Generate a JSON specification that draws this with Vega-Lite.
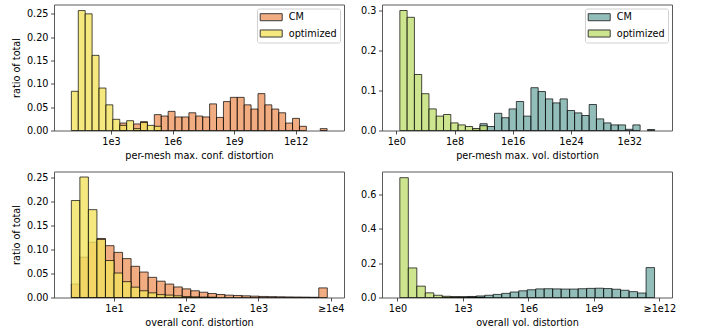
{
  "$schema": "https://vega.github.io/schema/vega-lite/v6.json",
  "padding": {"left": 11, "top": 3.5, "right": 0, "bottom": 0},
  "background": "white",
  "config": {
    "view": {"stroke": "#5a5a5a", "strokeWidth": 1},
    "font": "DejaVu Sans",
    "axis": {"domain": false, "grid": false, "ticks": true, "tickSize": 3.5, "tickColor": "#222", "tickWidth": 0.8, "labelFont": "DejaVu Sans", "labelFontSize": 9.7, "labelColor": "#000", "labelPadding": 2.5, "titleFont": "DejaVu Sans", "titleFontSize": 9.7, "titleFontWeight": "normal", "titleColor": "#000"},
    "axisX": {"titlePadding": 4, "labelFlush": false, "labelOverlap": false},
    "axisY": {"titlePadding": 4.5},
    "legend": {"orient": "top-right", "offset": 4, "padding": 2.7, "strokeColor": "#d0d0d0", "fillColor": "white", "cornerRadius": 2, "labelFont": "DejaVu Sans", "labelFontSize": 9.7, "labelColor": "#000", "symbolType": "M-2,-0.64H2V0.64H-2Z", "symbolSize": 121, "symbolOffset": 5.5, "symbolStrokeColor": "#3a3a3a", "symbolStrokeWidth": 1, "symbolOpacity": 1, "rowPadding": 4.3, "labelOffset": 11.5}
  },
  "columns": 2,
  "bounds": "flush",
  "spacing": {"row": 41, "column": 38},
  "resolve": {"scale": {"x": "independent", "y": "independent", "color": "independent"}, "legend": {"color": "independent"}, "axis": {"x": "independent", "y": "independent"}},
  "concat": [
    {
      "width": 290, "height": 126,
      "data": {"values": [
        {"m": "CM", "lo": 3.427, "hi": 3.764, "v": 0.016},
        {"m": "CM", "lo": 4.101, "hi": 4.438, "v": 0.014},
        {"m": "CM", "lo": 4.438, "hi": 4.775, "v": 0.019},
        {"m": "CM", "lo": 5.112, "hi": 5.449, "v": 0.034},
        {"m": "CM", "lo": 5.449, "hi": 5.786, "v": 0.031},
        {"m": "CM", "lo": 5.786, "hi": 6.123, "v": 0.041},
        {"m": "CM", "lo": 6.123, "hi": 6.460, "v": 0.029},
        {"m": "CM", "lo": 6.460, "hi": 6.797, "v": 0.029},
        {"m": "CM", "lo": 6.797, "hi": 7.134, "v": 0.038},
        {"m": "CM", "lo": 7.134, "hi": 7.471, "v": 0.031},
        {"m": "CM", "lo": 7.471, "hi": 7.808, "v": 0.029},
        {"m": "CM", "lo": 7.808, "hi": 8.145, "v": 0.057},
        {"m": "CM", "lo": 8.145, "hi": 8.482, "v": 0.028},
        {"m": "CM", "lo": 8.482, "hi": 8.819, "v": 0.062},
        {"m": "CM", "lo": 8.819, "hi": 9.156, "v": 0.071},
        {"m": "CM", "lo": 9.156, "hi": 9.493, "v": 0.071},
        {"m": "CM", "lo": 9.493, "hi": 9.830, "v": 0.055},
        {"m": "CM", "lo": 9.830, "hi": 10.167, "v": 0.046},
        {"m": "CM", "lo": 10.167, "hi": 10.504, "v": 0.079},
        {"m": "CM", "lo": 10.504, "hi": 10.841, "v": 0.055},
        {"m": "CM", "lo": 10.841, "hi": 11.178, "v": 0.046},
        {"m": "CM", "lo": 11.178, "hi": 11.515, "v": 0.038},
        {"m": "CM", "lo": 11.515, "hi": 11.852, "v": 0.016},
        {"m": "CM", "lo": 11.852, "hi": 12.189, "v": 0.026},
        {"m": "CM", "lo": 12.189, "hi": 12.526, "v": 0.009},
        {"m": "CM", "lo": 13.200, "hi": 13.537, "v": 0.004},
        {"m": "optimized", "lo": 1.068, "hi": 1.405, "v": 0.084},
        {"m": "optimized", "lo": 1.405, "hi": 1.742, "v": 0.257},
        {"m": "optimized", "lo": 1.742, "hi": 2.079, "v": 0.250},
        {"m": "optimized", "lo": 2.079, "hi": 2.416, "v": 0.161},
        {"m": "optimized", "lo": 2.416, "hi": 2.753, "v": 0.091},
        {"m": "optimized", "lo": 2.753, "hi": 3.090, "v": 0.055},
        {"m": "optimized", "lo": 3.090, "hi": 3.427, "v": 0.024},
        {"m": "optimized", "lo": 3.427, "hi": 3.764, "v": 0.011},
        {"m": "optimized", "lo": 3.764, "hi": 4.101, "v": 0.021},
        {"m": "optimized", "lo": 4.101, "hi": 4.438, "v": 0.004},
        {"m": "optimized", "lo": 4.438, "hi": 4.775, "v": 0.017},
        {"m": "optimized", "lo": 4.775, "hi": 5.112, "v": 0.011},
        {"m": "optimized", "lo": 5.112, "hi": 5.449, "v": 0.009}
      ]},
      "mark": {"type": "bar", "orient": "vertical", "stroke": "#000", "strokeOpacity": 0.7, "strokeWidth": 1},
      "encoding": {
        "x": {"field": "lo", "type": "quantitative", "scale": {"domain": [0.465, 14.116], "nice": false, "zero": false}, "axis": {"values": [3, 6, 9, 12], "labelExpr": "'1e' + datum.value", "title": "per-mesh max. conf. distortion"}},
        "x2": {"field": "hi"},
        "y": {"field": "v", "type": "quantitative", "stack": null, "scale": {"domain": [0, 0.27], "nice": false}, "axis": {"values": [0, 0.05, 0.1, 0.15, 0.2, 0.25], "format": ".2f", "title": "ratio of total"}},
        "color": {"field": "m", "type": "nominal", "scale": {"domain": ["CM", "optimized"], "range": ["rgba(232,117,47,0.6)", "rgba(242,226,95,0.8)"]}, "legend": {"title": null}}
      }
    },
    {
      "width": 290, "height": 126,
      "data": {"values": [
        {"m": "CM", "lo": 10.49, "hi": 11.49, "v": 0.003},
        {"m": "CM", "lo": 11.49, "hi": 12.49, "v": 0.017},
        {"m": "CM", "lo": 12.49, "hi": 13.49, "v": 0.010},
        {"m": "CM", "lo": 13.49, "hi": 14.49, "v": 0.043},
        {"m": "CM", "lo": 14.49, "hi": 15.49, "v": 0.032},
        {"m": "CM", "lo": 15.49, "hi": 16.49, "v": 0.054},
        {"m": "CM", "lo": 16.49, "hi": 17.49, "v": 0.0725},
        {"m": "CM", "lo": 17.49, "hi": 18.49, "v": 0.036},
        {"m": "CM", "lo": 18.49, "hi": 19.49, "v": 0.107},
        {"m": "CM", "lo": 19.49, "hi": 20.49, "v": 0.0975},
        {"m": "CM", "lo": 20.49, "hi": 21.49, "v": 0.079},
        {"m": "CM", "lo": 21.49, "hi": 22.49, "v": 0.069},
        {"m": "CM", "lo": 22.49, "hi": 23.49, "v": 0.079},
        {"m": "CM", "lo": 23.49, "hi": 24.49, "v": 0.050},
        {"m": "CM", "lo": 24.49, "hi": 25.49, "v": 0.044},
        {"m": "CM", "lo": 25.49, "hi": 26.49, "v": 0.0375},
        {"m": "CM", "lo": 26.49, "hi": 27.49, "v": 0.065},
        {"m": "CM", "lo": 27.49, "hi": 28.49, "v": 0.029},
        {"m": "CM", "lo": 28.49, "hi": 29.49, "v": 0.019},
        {"m": "CM", "lo": 29.49, "hi": 30.49, "v": 0.014},
        {"m": "CM", "lo": 30.49, "hi": 31.49, "v": 0.014},
        {"m": "CM", "lo": 31.49, "hi": 32.49, "v": 0.003},
        {"m": "CM", "lo": 32.49, "hi": 33.49, "v": 0.014},
        {"m": "CM", "lo": 34.49, "hi": 35.49, "v": 0.0025},
        {"m": "optimized", "lo": 0.49, "hi": 1.49, "v": 0.300},
        {"m": "optimized", "lo": 1.49, "hi": 2.49, "v": 0.283},
        {"m": "optimized", "lo": 2.49, "hi": 3.49, "v": 0.140},
        {"m": "optimized", "lo": 3.49, "hi": 4.49, "v": 0.092},
        {"m": "optimized", "lo": 4.49, "hi": 5.49, "v": 0.054},
        {"m": "optimized", "lo": 5.49, "hi": 6.49, "v": 0.036},
        {"m": "optimized", "lo": 6.49, "hi": 7.49, "v": 0.040},
        {"m": "optimized", "lo": 7.49, "hi": 8.49, "v": 0.019},
        {"m": "optimized", "lo": 8.49, "hi": 9.49, "v": 0.014},
        {"m": "optimized", "lo": 9.49, "hi": 10.49, "v": 0.010},
        {"m": "optimized", "lo": 10.49, "hi": 11.49, "v": 0.005},
        {"m": "optimized", "lo": 11.49, "hi": 12.49, "v": 0.012}
      ]},
      "mark": {"type": "bar", "orient": "vertical", "stroke": "#000", "strokeOpacity": 0.7, "strokeWidth": 1},
      "encoding": {
        "x": {"field": "lo", "type": "quantitative", "scale": {"domain": [-1.275, 37.18], "nice": false, "zero": false}, "axis": {"values": [0, 8, 16, 24, 32], "labelExpr": "'1e' + datum.value", "title": "per-mesh max. vol. distortion"}},
        "x2": {"field": "hi"},
        "y": {"field": "v", "type": "quantitative", "stack": null, "scale": {"domain": [0, 0.315], "nice": false}, "axis": {"values": [0, 0.1, 0.2, 0.3], "format": ".1f", "title": null}},
        "color": {"field": "m", "type": "nominal", "scale": {"domain": ["CM", "optimized"], "range": ["rgba(74,145,139,0.6)", "rgba(194,222,115,0.8)"]}, "legend": {"title": null}}
      }
    },
    {
      "width": 290, "height": 126,
      "data": {"values": [
        {"m": "CM", "lo": 0.410, "hi": 0.528, "v": 0.028},
        {"m": "CM", "lo": 0.528, "hi": 0.646, "v": 0.084},
        {"m": "CM", "lo": 0.646, "hi": 0.764, "v": 0.115},
        {"m": "CM", "lo": 0.764, "hi": 0.882, "v": 0.123},
        {"m": "CM", "lo": 0.882, "hi": 1.001, "v": 0.108},
        {"m": "CM", "lo": 1.001, "hi": 1.119, "v": 0.094},
        {"m": "CM", "lo": 1.119, "hi": 1.237, "v": 0.081},
        {"m": "CM", "lo": 1.237, "hi": 1.355, "v": 0.065},
        {"m": "CM", "lo": 1.355, "hi": 1.473, "v": 0.053},
        {"m": "CM", "lo": 1.473, "hi": 1.591, "v": 0.042},
        {"m": "CM", "lo": 1.591, "hi": 1.709, "v": 0.034},
        {"m": "CM", "lo": 1.709, "hi": 1.827, "v": 0.028},
        {"m": "CM", "lo": 1.827, "hi": 1.945, "v": 0.022},
        {"m": "CM", "lo": 1.945, "hi": 2.063, "v": 0.018},
        {"m": "CM", "lo": 2.063, "hi": 2.182, "v": 0.014},
        {"m": "CM", "lo": 2.182, "hi": 2.300, "v": 0.011},
        {"m": "CM", "lo": 2.300, "hi": 2.418, "v": 0.0083},
        {"m": "CM", "lo": 2.418, "hi": 2.536, "v": 0.0063},
        {"m": "CM", "lo": 2.536, "hi": 2.654, "v": 0.0049},
        {"m": "CM", "lo": 2.654, "hi": 2.772, "v": 0.0042},
        {"m": "CM", "lo": 2.772, "hi": 2.890, "v": 0.0035},
        {"m": "CM", "lo": 2.890, "hi": 3.008, "v": 0.0028},
        {"m": "CM", "lo": 3.008, "hi": 3.126, "v": 0.0022},
        {"m": "CM", "lo": 3.126, "hi": 3.244, "v": 0.0018},
        {"m": "CM", "lo": 3.244, "hi": 3.363, "v": 0.0015},
        {"m": "CM", "lo": 3.363, "hi": 3.481, "v": 0.0012},
        {"m": "CM", "lo": 3.481, "hi": 3.599, "v": 0.0010},
        {"m": "CM", "lo": 3.599, "hi": 3.717, "v": 0.0008},
        {"m": "CM", "lo": 3.717, "hi": 3.835, "v": 0.0005},
        {"m": "CM", "lo": 3.835, "hi": 3.953, "v": 0.020},
        {"m": "optimized", "lo": 0.410, "hi": 0.528, "v": 0.202},
        {"m": "optimized", "lo": 0.528, "hi": 0.646, "v": 0.251},
        {"m": "optimized", "lo": 0.646, "hi": 0.764, "v": 0.183},
        {"m": "optimized", "lo": 0.764, "hi": 0.882, "v": 0.121},
        {"m": "optimized", "lo": 0.882, "hi": 1.001, "v": 0.077},
        {"m": "optimized", "lo": 1.001, "hi": 1.119, "v": 0.051},
        {"m": "optimized", "lo": 1.119, "hi": 1.237, "v": 0.033},
        {"m": "optimized", "lo": 1.237, "hi": 1.355, "v": 0.0215},
        {"m": "optimized", "lo": 1.355, "hi": 1.473, "v": 0.014},
        {"m": "optimized", "lo": 1.473, "hi": 1.591, "v": 0.0097},
        {"m": "optimized", "lo": 1.591, "hi": 1.709, "v": 0.006},
        {"m": "optimized", "lo": 1.709, "hi": 1.827, "v": 0.005},
        {"m": "optimized", "lo": 1.827, "hi": 1.945, "v": 0.0035},
        {"m": "optimized", "lo": 1.945, "hi": 2.063, "v": 0.002},
        {"m": "optimized", "lo": 2.063, "hi": 2.182, "v": 0.0014},
        {"m": "optimized", "lo": 2.182, "hi": 2.300, "v": 0.001},
        {"m": "optimized", "lo": 2.300, "hi": 2.418, "v": 0.0007}
      ]},
      "mark": {"type": "bar", "orient": "vertical", "stroke": "#000", "strokeOpacity": 0.7, "strokeWidth": 1},
      "encoding": {
        "x": {"field": "lo", "type": "quantitative", "scale": {"domain": [0.239, 4.115], "nice": false, "zero": false}, "axis": {"values": [1, 2, 3, 4], "labelExpr": "datum.value == 4 ? '≥1e4' : '1e' + datum.value", "title": "overall conf. distortion"}},
        "x2": {"field": "hi"},
        "y": {"field": "v", "type": "quantitative", "stack": null, "scale": {"domain": [0, 0.2625], "nice": false}, "axis": {"values": [0, 0.05, 0.1, 0.15, 0.2, 0.25], "format": ".2f", "title": "ratio of total"}},
        "color": {"field": "m", "type": "nominal", "scale": {"domain": ["CM", "optimized"], "range": ["rgba(232,117,47,0.6)", "rgba(242,226,95,0.8)"]}, "legend": null}
      }
    },
    {
      "width": 290, "height": 126,
      "data": {"values": [
        {"m": "CM", "lo": 2.055, "hi": 2.444, "v": 0.002},
        {"m": "CM", "lo": 2.444, "hi": 2.833, "v": 0.004},
        {"m": "CM", "lo": 2.833, "hi": 3.222, "v": 0.004},
        {"m": "CM", "lo": 3.222, "hi": 3.611, "v": 0.006},
        {"m": "CM", "lo": 3.611, "hi": 4.000, "v": 0.009},
        {"m": "CM", "lo": 4.000, "hi": 4.389, "v": 0.013},
        {"m": "CM", "lo": 4.389, "hi": 4.778, "v": 0.018},
        {"m": "CM", "lo": 4.778, "hi": 5.167, "v": 0.024},
        {"m": "CM", "lo": 5.167, "hi": 5.556, "v": 0.032},
        {"m": "CM", "lo": 5.556, "hi": 5.945, "v": 0.039},
        {"m": "CM", "lo": 5.945, "hi": 6.334, "v": 0.045},
        {"m": "CM", "lo": 6.334, "hi": 6.723, "v": 0.050},
        {"m": "CM", "lo": 6.723, "hi": 7.112, "v": 0.051},
        {"m": "CM", "lo": 7.112, "hi": 7.501, "v": 0.050},
        {"m": "CM", "lo": 7.501, "hi": 7.890, "v": 0.049},
        {"m": "CM", "lo": 7.890, "hi": 8.279, "v": 0.049},
        {"m": "CM", "lo": 8.279, "hi": 8.668, "v": 0.051},
        {"m": "CM", "lo": 8.668, "hi": 9.057, "v": 0.053},
        {"m": "CM", "lo": 9.057, "hi": 9.446, "v": 0.054},
        {"m": "CM", "lo": 9.446, "hi": 9.835, "v": 0.052},
        {"m": "CM", "lo": 9.835, "hi": 10.224, "v": 0.048},
        {"m": "CM", "lo": 10.224, "hi": 10.613, "v": 0.042},
        {"m": "CM", "lo": 10.613, "hi": 11.002, "v": 0.034},
        {"m": "CM", "lo": 11.002, "hi": 11.391, "v": 0.026},
        {"m": "CM", "lo": 11.391, "hi": 11.780, "v": 0.174},
        {"m": "optimized", "lo": 0.110, "hi": 0.499, "v": 0.697},
        {"m": "optimized", "lo": 0.499, "hi": 0.888, "v": 0.172},
        {"m": "optimized", "lo": 0.888, "hi": 1.277, "v": 0.066},
        {"m": "optimized", "lo": 1.277, "hi": 1.666, "v": 0.027},
        {"m": "optimized", "lo": 1.666, "hi": 2.055, "v": 0.013},
        {"m": "optimized", "lo": 2.055, "hi": 2.444, "v": 0.007},
        {"m": "optimized", "lo": 2.444, "hi": 2.833, "v": 0.004},
        {"m": "optimized", "lo": 2.833, "hi": 3.222, "v": 0.003},
        {"m": "optimized", "lo": 3.222, "hi": 3.611, "v": 0.002},
        {"m": "optimized", "lo": 3.611, "hi": 4.000, "v": 0.001}
      ]},
      "mark": {"type": "bar", "orient": "vertical", "stroke": "#000", "strokeOpacity": 0.7, "strokeWidth": 1},
      "encoding": {
        "x": {"field": "lo", "type": "quantitative", "scale": {"domain": [-0.478, 12.35], "nice": false, "zero": false}, "axis": {"values": [0, 3, 6, 9, 12], "labelExpr": "datum.value == 12 ? '≥1e12' : '1e' + datum.value", "title": "overall vol. distortion"}},
        "x2": {"field": "hi"},
        "y": {"field": "v", "type": "quantitative", "stack": null, "scale": {"domain": [0, 0.733], "nice": false}, "axis": {"values": [0, 0.2, 0.4, 0.6], "format": ".1f", "title": null}},
        "color": {"field": "m", "type": "nominal", "scale": {"domain": ["CM", "optimized"], "range": ["rgba(74,145,139,0.6)", "rgba(194,222,115,0.8)"]}, "legend": null}
      }
    }
  ]
}
